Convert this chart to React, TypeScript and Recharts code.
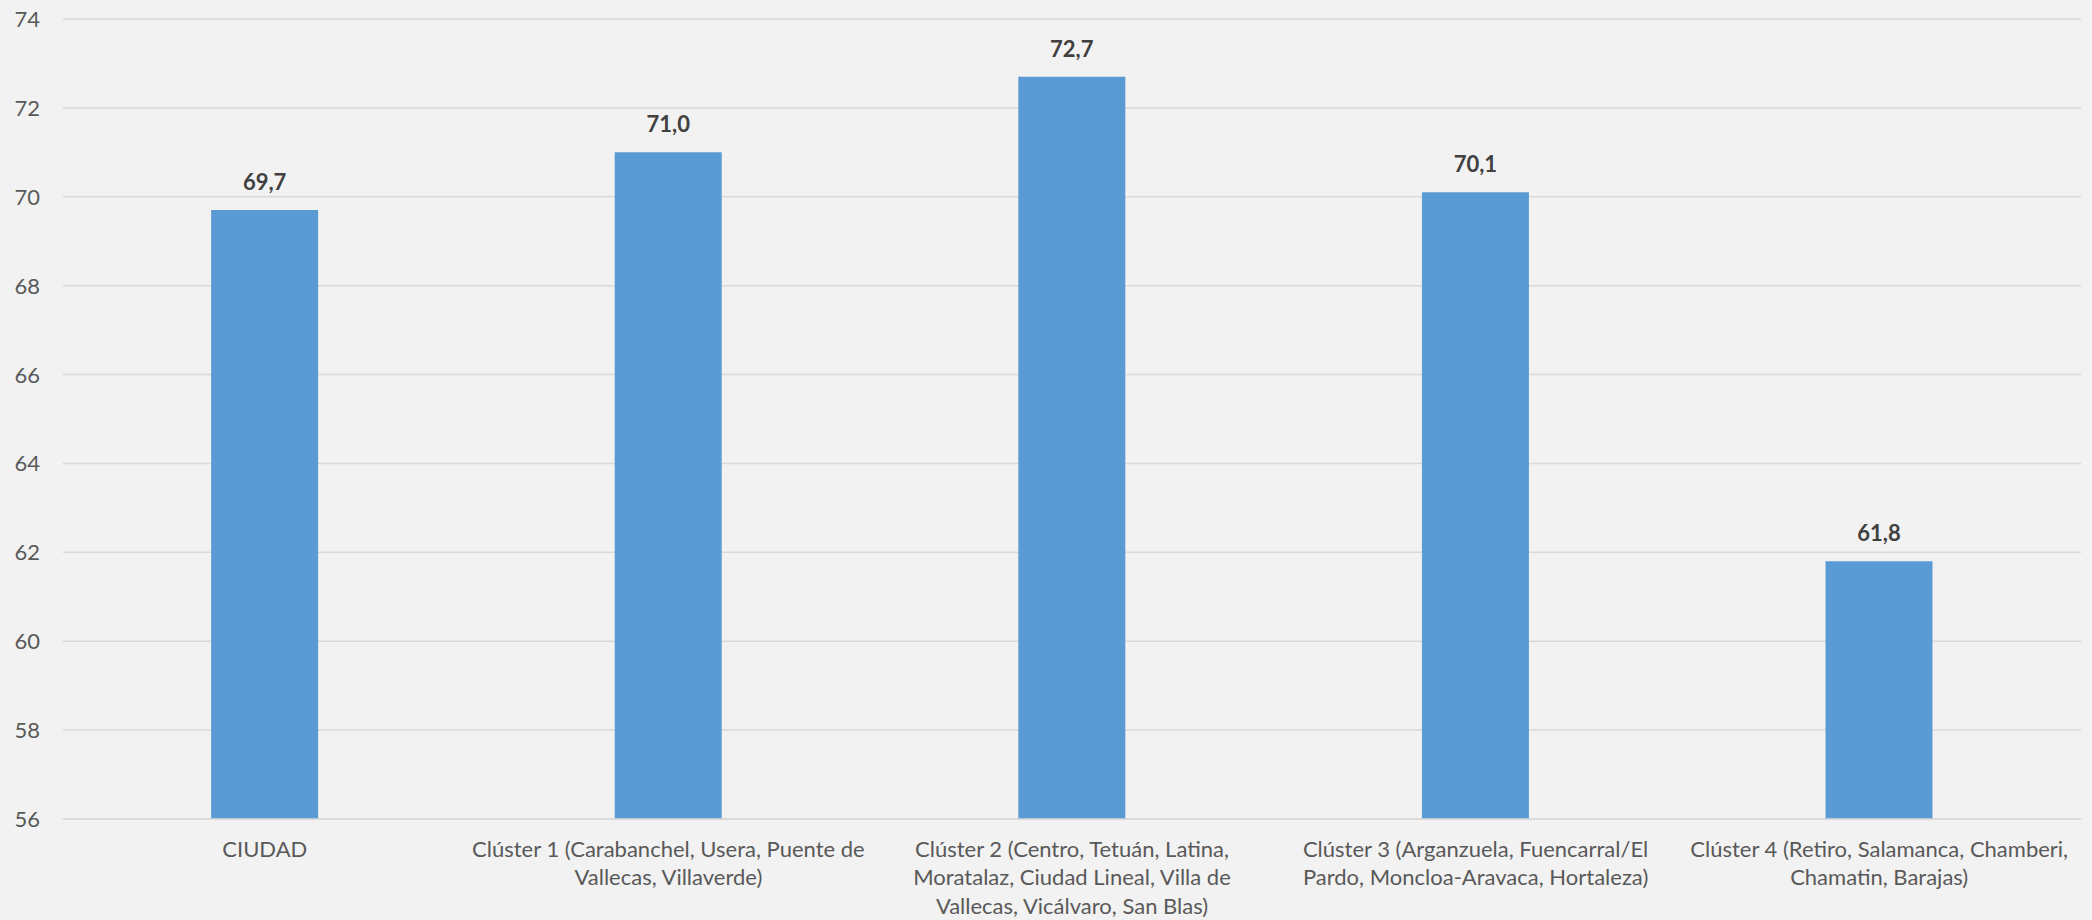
import React from "react";
import { BarChart, Bar, XAxis, YAxis, CartesianGrid, LabelList } from "recharts";

const categories = ["CIUDAD", "Clúster 1", "Clúster 2", "Clúster 3", "Clúster 4"];
const values = [69.7, 71.0, 72.7, 70.1, 61.8];
const tickLabelLines: string[][] = [
  ["CIUDAD"],
  ["Clúster 1 (Carabanchel, Usera, Puente de", "Vallecas, Villaverde)"],
  ["Clúster 2 (Centro, Tetuán, Latina,", "Moratalaz, Ciudad Lineal, Villa de", "Vallecas, Vicálvaro, San Blas)"],
  ["Clúster 3 (Arganzuela, Fuencarral/El", "Pardo, Moncloa-Aravaca, Hortaleza)"],
  ["Clúster 4 (Retiro, Salamanca, Chamberi,", "Chamatin, Barajas)"],
];
const yTicks = [56, 58, 60, 62, 64, 66, 68, 70, 72, 74];

const data = categories.map((c, i) => ({ name: c, value: values[i], idx: i }));

const FONT = "Lato, 'DejaVu Sans', sans-serif";

const XTick = (props: any) => {
  const { x, y, payload } = props;
  const lines = tickLabelLines[payload.index] || [String(payload.value)];
  return (
    <g>
      {lines.map((l, i) => (
        <text
          key={i}
          x={x}
          y={y + 37.5 + i * 28.5}
          textAnchor="middle"
          fill="#595959"
          fontSize={22}
          fontFamily={FONT}
        >
          {l}
        </text>
      ))}
    </g>
  );
};

const YTick = (props: any) => {
  const { x, y, payload } = props;
  return (
    <text x={x} y={y} dy={8} textAnchor="end" fill="#595959" fontSize={22} fontFamily={FONT}>
      {payload.value}
    </text>
  );
};

const fmt = (v: any) => Number(v).toFixed(1).replace(".", ",");

export default function App() {
  return (
    <div
      style={{
        position: "fixed",
        left: 0,
        top: 0,
        width: 2092,
        height: 920,
        background: "#f2f2f2",
      }}
    >
      <BarChart
        width={2092}
        height={920}
        data={data}
        margin={{ top: 19, right: 11, bottom: 0, left: 0 }}
        barCategoryGap="36.7%"
      >
        <CartesianGrid vertical={false} stroke="#d9d9d9" strokeWidth={1.5} />
        <XAxis
          dataKey="name"
          height={101}
          axisLine={{ stroke: "#d9d9d9", strokeWidth: 1.5 }}
          tickLine={false}
          tickSize={0}
          tickMargin={0}
          interval={0}
          tick={<XTick />}
        />
        <YAxis
          width={63}
          domain={[56, 74]}
          ticks={yTicks}
          axisLine={false}
          tickLine={false}
          tickSize={0}
          tickMargin={23}
          interval={0}
          tick={<YTick />}
        />
        <Bar dataKey="value" fill="#5b9bd5" isAnimationActive={false}>
          <LabelList
            dataKey="value"
            position="top"
            offset={20}
            formatter={fmt}
            fill="#404040"
            fontSize={22}
            fontWeight="bold"
            fontFamily={FONT}
          />
        </Bar>
      </BarChart>
    </div>
  );
}
